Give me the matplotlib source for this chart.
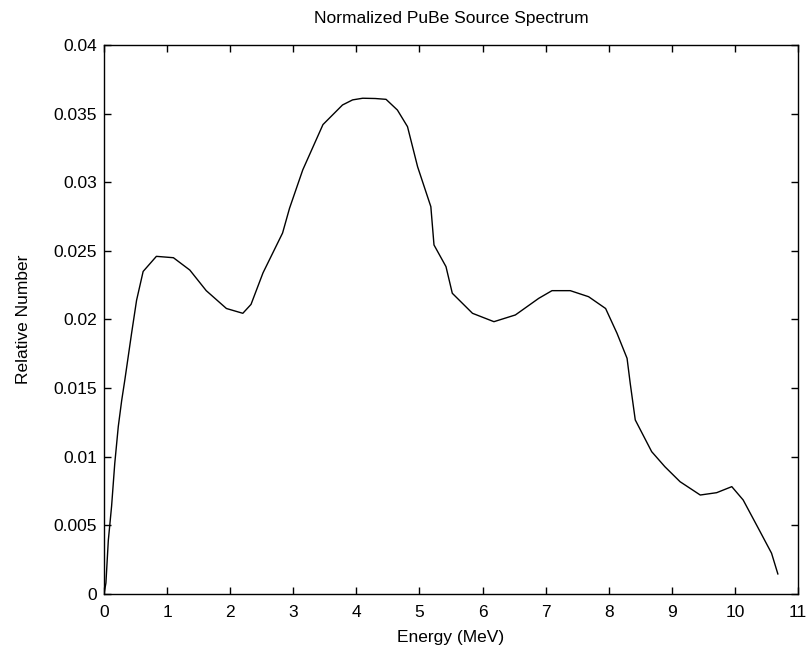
import matplotlib
matplotlib.use("Agg")
import matplotlib.pyplot as plt

# PuBe spectrum
energy = [0.0, 0.03, 0.068, 0.12, 0.17, 0.226, 0.28, 0.33, 0.437, 0.516, 0.62,
          0.83, 1.10, 1.36, 1.62, 1.94, 2.20, 2.33, 2.52, 2.83, 2.94, 3.15,
          3.47, 3.78, 3.94, 4.10, 4.30, 4.47, 4.65, 4.81, 4.97, 5.18,
          5.23, 5.42, 5.52, 5.84, 6.18, 6.52, 6.89, 7.10, 7.39, 7.68, 7.95,
          8.13, 8.29, 8.34, 8.42, 8.68, 8.89, 9.13, 9.45, 9.71, 9.95, 10.13,
          10.37, 10.58, 10.68]
rel_number = [0.0, 0.0008, 0.0039, 0.0064, 0.0095, 0.0122, 0.0141, 0.0156,
              0.0190, 0.0214, 0.0235, 0.0246, 0.0245, 0.0236, 0.0221, 0.0208,
              0.02045, 0.0211, 0.0234, 0.0263, 0.0281, 0.0309, 0.0342, 0.03563,
              0.0360, 0.03612, 0.0361, 0.03604, 0.03526, 0.03405, 0.03113,
              0.02822, 0.02543, 0.02385, 0.02191, 0.02045, 0.01984,
              0.02033, 0.02154, 0.0221, 0.0221, 0.02166, 0.0208, 0.0190,
              0.01717, 0.01535, 0.01268, 0.01037, 0.00927, 0.00818, 0.00721,
              0.00738, 0.00782, 0.00685, 0.00479, 0.00297, 0.00146]

plt.rcParams["font.family"] = ["Liberation Sans", "DejaVu Sans"]

fig = plt.figure(figsize=(8.07, 6.52), dpi=100)
ax = fig.add_axes([0.1289, 0.0890, 0.8600, 0.8420])
ax.plot(energy, rel_number, color="black", lw=1.0)

ax.set_xlim(0, 11)
ax.set_ylim(0, 0.04)
ax.set_xticks(range(0, 12))
ax.set_yticks([0, 0.005, 0.01, 0.015, 0.02, 0.025, 0.03, 0.035, 0.04])
ax.set_yticklabels(["0", "0.005", "0.01", "0.015", "0.02", "0.025", "0.03",
                    "0.035", "0.04"])
ax.tick_params(direction="in", top=True, right=True, length=5, width=1,
               labelsize=12.5)
ax.tick_params(axis="y", pad=5)
ax.tick_params(axis="x", pad=8)
for s in ax.spines.values():
    s.set_linewidth(1)

ax.set_title("Normalized PuBe Source Spectrum", fontsize=12.5, pad=16)
ax.set_xlabel("Energy (MeV)", fontsize=12.5, labelpad=7)
ax.set_ylabel("Relative Number", fontsize=12.5, labelpad=16)

fig.savefig("out.png", dpi=100)
